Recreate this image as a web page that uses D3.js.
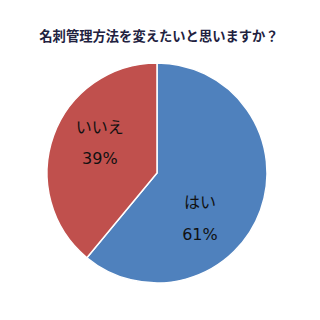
<!DOCTYPE html>
<html lang="ja">
<head>
<meta charset="UTF-8">
<title>名刺管理方法</title>
<script src="https://cdn.jsdelivr.net/npm/d3@7"></script>
<style>
  body { margin: 0; background: #fff; }
  svg { display: block; }
</style>
</head>
<body>
<script>
// data
var categories = ["はい", "いいえ"];
var values = [61, 39];
var colors = ["#4F81BD", "#C0504D"];
var title = "名刺管理方法を変えたいと思いますか？";

var width = 320, height = 320;
var cx = 157, cy = 173, radius = 110;

var svg = d3.select("body").append("svg")
    .attr("width", width)
    .attr("height", height);

svg.append("text")
    .attr("x", 159)
    .attr("y", 41)
    .attr("text-anchor", "middle")
    .style("font-family", "'Noto Sans CJK JP', sans-serif")
    .style("font-size", "13.3px")
    .style("font-weight", "bold")
    .style("fill", "#22223f")
    .text(title);

var pie = d3.pie().sort(null);
var arc = d3.arc().innerRadius(0).outerRadius(radius);

// label placement (excel-like), angle shift and distance per slice
var labelShift = [0.46, 0.15];
var labelDist = [62, 65];

var g = svg.append("g").attr("transform", "translate(" + cx + "," + cy + ")");

var slices = g.selectAll(".slice")
    .data(pie(values))
    .enter().append("g")
    .attr("class", "slice");

slices.append("path")
    .attr("d", arc)
    .attr("fill", function (d, i) { return colors[i]; })
    .attr("stroke", "#fff")
    .attr("stroke-width", 1.5);

var lbl = slices.append("text")
    .attr("transform", function (d, i) {
        var a = (d.startAngle + d.endAngle) / 2 + labelShift[i];
        var x = Math.sin(a) * labelDist[i], y = -Math.cos(a) * labelDist[i];
        return "translate(" + x + "," + y + ")";
    })
    .attr("text-anchor", "middle")
    .style("fill", "#111");

lbl.append("tspan")
    .attr("x", 0)
    .attr("y", -9.5)
    .style("font-family", "'Noto Sans CJK JP', sans-serif")
    .style("font-size", "16px")
    .text(function (d, i) { return categories[i]; });

lbl.append("tspan")
    .attr("x", 0)
    .attr("y", 22)
    .style("font-family", "'DejaVu Sans', sans-serif")
    .style("font-size", "16px")
    .text(function (d) { return d.data + "%"; });
</script>
</body>
</html>
